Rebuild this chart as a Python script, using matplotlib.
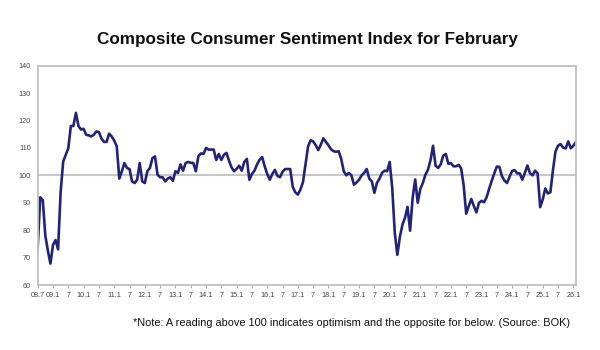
import matplotlib
matplotlib.use("Agg")
import matplotlib.pyplot as plt
import numpy as np

# Monthly CCSI values, 2008.7 .. 2026.2
ccsi = [
    73.5, 92.0, 91.0, 78.0, 72.5, 67.8, 74.6, 76.4, 73.0, 94.0, 105.0, 107.5,
    109.8, 118.0, 118.0, 122.8, 118.0, 116.7, 117.0, 114.8, 114.6, 114.2, 114.8, 116.0,
    115.8, 113.4, 112.2, 112.2, 115.2, 114.2, 112.7, 110.6, 98.8, 101.5, 104.5, 102.7,
    102.3, 97.8, 97.2, 98.4, 104.5, 97.8, 97.2, 101.5, 102.7, 106.3, 106.9, 100.2,
    99.3, 99.3, 97.8, 98.8, 99.3, 98.0, 101.5, 100.9, 104.0, 101.7, 104.5, 104.9,
    104.6, 104.5, 101.5, 107.0, 108.0, 107.8, 110.0, 109.4, 109.4, 109.4, 105.6, 107.8,
    105.6, 107.5, 108.2, 105.4, 102.9, 101.5, 102.4, 103.5, 101.7, 104.9, 106.0, 98.4,
    100.5, 101.7, 104.0, 105.7, 106.7, 103.3, 100.5, 98.4, 100.5, 102.0, 99.8, 99.3,
    101.3, 102.3, 102.3, 102.3, 95.8, 93.8, 93.0, 94.8, 97.5, 104.0, 110.5, 112.8,
    112.4, 111.0, 109.2, 111.2, 113.5, 112.2, 111.0, 109.5, 108.8, 108.6, 108.8, 106.0,
    101.5, 100.0, 100.9, 100.0, 96.6, 97.4, 98.4, 100.0, 100.9, 102.3, 98.8, 97.8,
    93.6, 97.2, 98.8, 100.9, 101.7, 101.5, 104.9, 95.4, 79.0, 71.0, 77.5, 82.0,
    84.5, 88.5, 79.8, 91.7, 98.5, 90.0, 95.0, 97.2, 100.2, 102.0, 105.5, 110.8,
    103.5, 102.7, 104.0, 107.2, 107.8, 104.2, 104.5, 103.3, 103.3, 103.8, 102.6, 96.4,
    86.0, 88.8, 91.4, 88.8, 86.5, 89.9, 90.7, 90.2, 92.0, 95.1, 98.0, 100.7,
    103.2, 103.1, 99.7, 98.1, 97.2, 99.5, 101.6, 101.9, 100.7, 100.7, 98.4, 100.9,
    103.6, 100.8, 100.0, 101.7, 100.7, 88.4, 91.2, 95.2, 93.4, 93.8, 101.8, 108.7,
    110.8, 111.4, 110.1, 109.8, 112.4, 109.9, 110.8, 112.1,
]
start_year, start_month = 2008, 7
y_ticks = [60, 70, 80, 90, 100, 110, 120, 130, 140]
title = "Composite Consumer Sentiment Index for February"
note = "*Note: A reading above 100 indicates optimism and the opposite for below. (Source: BOK)"

font = ["Liberation Sans", "DejaVu Sans"]

n = len(ccsi)
x = np.arange(n)

# tick positions every January / July
tick_pos, tick_lab = [], []
for i in range(n):
    m = (start_month - 1 + i) % 12 + 1
    yr = start_year + (start_month - 1 + i) // 12
    if m in (1, 7):
        tick_pos.append(i)
        if i == 0 or m == 1:
            tick_lab.append(f"{yr % 100:02d}.{m}")
        else:
            tick_lab.append("7")

fig = plt.figure(figsize=(6, 3.5), dpi=100)
fig.patch.set_facecolor("white")
ax = fig.add_axes([0.0628, 0.1857, 0.897, 0.6266])

ax.axhline(100, color="#c8c8c8", lw=1.5, zorder=1)
ax.plot(x, ccsi, color="#23237a", lw=1.9, zorder=2)

ax.set_xlim(0, n - 1)
ax.set_ylim(60, 140)
ax.set_yticks(y_ticks)
ax.set_yticklabels([str(v) for v in y_ticks], fontsize=5.2, color="#444444",
                   family=font)
ax.set_xticks(tick_pos)
ax.set_xticklabels(tick_lab, fontsize=5.2, color="#444444", family=font)
ax.tick_params(axis="y", length=0, pad=5)
ax.tick_params(axis="x", length=2, width=0.6, color="#999999", pad=3)
for s in ax.spines.values():
    s.set_color("#c0c0c0")
    s.set_linewidth(1.3)

fig.text(0.513, 0.888, title, ha="center", va="center", fontsize=12.3,
         fontweight="bold", family=font, color="#111111")
fig.text(0.95, 0.077, note, ha="right", va="center", fontsize=7.9,
         family=font, color="#111111")

fig.savefig("out.png", dpi=100, facecolor="white")
